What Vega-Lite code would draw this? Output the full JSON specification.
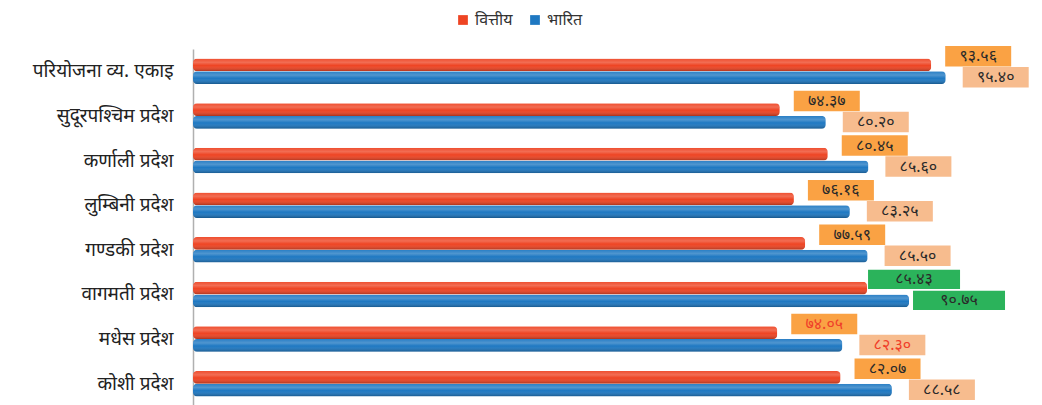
{
  "$schema": "https://vega.github.io/schema/vega-lite/v6.json",
  "autosize": "none",
  "width": 789,
  "height": 357,
  "padding": {"left": 193, "top": 49, "right": 60, "bottom": 0},
  "background": "white",
  "config": {"view": {"stroke": null}, "font": "Noto Sans"},
  "data": {"values": [
    {"cat": "परियोजना व्य. एकाइ", "series": "वित्तीय", "value": 93.56, "label": "९३.५६"},
    {"cat": "परियोजना व्य. एकाइ", "series": "भारित", "value": 95.40, "label": "९५.४०"},
    {"cat": "सुदूरपश्चिम प्रदेश", "series": "वित्तीय", "value": 74.37, "label": "७४.३७"},
    {"cat": "सुदूरपश्चिम प्रदेश", "series": "भारित", "value": 80.20, "label": "८०.२०"},
    {"cat": "कर्णाली प्रदेश", "series": "वित्तीय", "value": 80.45, "label": "८०.४५"},
    {"cat": "कर्णाली प्रदेश", "series": "भारित", "value": 85.60, "label": "८५.६०"},
    {"cat": "लुम्बिनी प्रदेश", "series": "वित्तीय", "value": 76.16, "label": "७६.१६"},
    {"cat": "लुम्बिनी प्रदेश", "series": "भारित", "value": 83.25, "label": "८३.२५"},
    {"cat": "गण्डकी प्रदेश", "series": "वित्तीय", "value": 77.59, "label": "७७.५९"},
    {"cat": "गण्डकी प्रदेश", "series": "भारित", "value": 85.50, "label": "८५.५०"},
    {"cat": "वागमती प्रदेश", "series": "वित्तीय", "value": 85.43, "label": "८५.४३"},
    {"cat": "वागमती प्रदेश", "series": "भारित", "value": 90.75, "label": "९०.७५"},
    {"cat": "मधेस प्रदेश", "series": "वित्तीय", "value": 74.05, "label": "७४.०५"},
    {"cat": "मधेस प्रदेश", "series": "भारित", "value": 82.30, "label": "८२.३०"},
    {"cat": "कोशी प्रदेश", "series": "वित्तीय", "value": 82.07, "label": "८२.०७"},
    {"cat": "कोशी प्रदेश", "series": "भारित", "value": 88.58, "label": "८८.५८"}
  ]},
  "encoding": {
    "y": {"field": "cat", "type": "nominal", "sort": null,
      "scale": {"paddingInner": 0.43, "paddingOuter": 0.215},
      "axis": {"title": null, "ticks": false, "domain": true, "domainColor": "#b0b0b0", "domainWidth": 1.5,
        "labelFontSize": 19, "labelColor": "#222", "labelPadding": 20, "labelFont": "Noto Sans"}},
    "x": {"field": "value", "type": "quantitative", "scale": {"domain": [0, 100], "nice": false},
      "axis": null}
  },
  "layer": [
    {
      "mark": {"type": "bar", "cornerRadius": 4},
      "encoding": {
        "yOffset": {"field": "series", "type": "nominal", "sort": ["वित्तीय", "भारित"]},
        "color": {"field": "series", "type": "nominal",
          "scale": {"domain": ["वित्तीय", "भारित"], "range": ["#EE4423", "#1E78C2"]},
          "legend": {"title": null, "orient": "none", "legendX": 262, "legendY": -37, "direction": "horizontal",
            "symbolType": "square", "symbolSize": 95, "symbolStrokeWidth": 0, "labelFontSize": 16,
            "labelColor": "#333", "columnPadding": 14, "labelOffset": 4, "symbolOpacity": 1}}
      }
    },
    {
      "mark": {"type": "bar", "cornerRadius": 4,
        "fill": {"gradient": "linear", "x1": 0, "y1": 0, "x2": 0, "y2": 1,
          "stops": [
            {"offset": 0, "color": "rgba(255,255,255,0.05)"},
            {"offset": 0.3, "color": "rgba(255,255,255,0.22)"},
            {"offset": 0.55, "color": "rgba(255,255,255,0)"},
            {"offset": 1, "color": "rgba(0,0,0,0.28)"}
          ]}},
      "encoding": {
        "yOffset": {"field": "series", "type": "nominal", "sort": ["वित्तीय", "भारित"]}
      }
    },
    {
      "transform": [{"filter": "datum.series === 'वित्तीय'"}],
      "mark": {"type": "point", "filled": true, "opacity": 1, "xOffset": 47, "yOffset": -15, "strokeWidth": 0},
      "encoding": {
        "shape": {"condition": {"test": "datum.cat === 'वागमती प्रदेश'", "value": "M-1,-0.21L1,-0.21L1,0.21L-1,0.21Z"}, "value": "M-1,-0.31L1,-0.31L1,0.31L-1,0.31Z"},
        "size": {"condition": {"test": "datum.cat === 'वागमती प्रदेश'", "value": 8464}, "value": 4356},
        "fill": {"condition": {"test": "datum.cat === 'वागमती प्रदेश'", "value": "#2BB35B"}, "value": "#FAA244"}
      }
    },
    {
      "transform": [{"filter": "datum.series === 'वित्तीय'"}],
      "mark": {"type": "text", "xOffset": 47, "yOffset": -15, "fontSize": 16, "align": "center", "baseline": "middle"},
      "encoding": {
        "text": {"field": "label"},
        "color": {"condition": {"test": "datum.cat === 'मधेस प्रदेश'", "value": "#F0402A"}, "value": "#2a2a2a"}
      }
    },
    {
      "transform": [{"filter": "datum.series === 'भारित'"}],
      "mark": {"type": "point", "filled": true, "opacity": 1, "xOffset": 50, "yOffset": 6, "strokeWidth": 0},
      "encoding": {
        "shape": {"condition": {"test": "datum.cat === 'वागमती प्रदेश'", "value": "M-1,-0.21L1,-0.21L1,0.21L-1,0.21Z"}, "value": "M-1,-0.31L1,-0.31L1,0.31L-1,0.31Z"},
        "size": {"condition": {"test": "datum.cat === 'वागमती प्रदेश'", "value": 8464}, "value": 4356},
        "fill": {"condition": {"test": "datum.cat === 'वागमती प्रदेश'", "value": "#2BB35B"}, "value": "#F7BC8E"}
      }
    },
    {
      "transform": [{"filter": "datum.series === 'भारित'"}],
      "mark": {"type": "text", "xOffset": 50, "yOffset": 6, "fontSize": 16, "align": "center", "baseline": "middle"},
      "encoding": {
        "text": {"field": "label"},
        "color": {"condition": {"test": "datum.cat === 'मधेस प्रदेश'", "value": "#F0402A"}, "value": "#2a2a2a"}
      }
    }
  ]
}
